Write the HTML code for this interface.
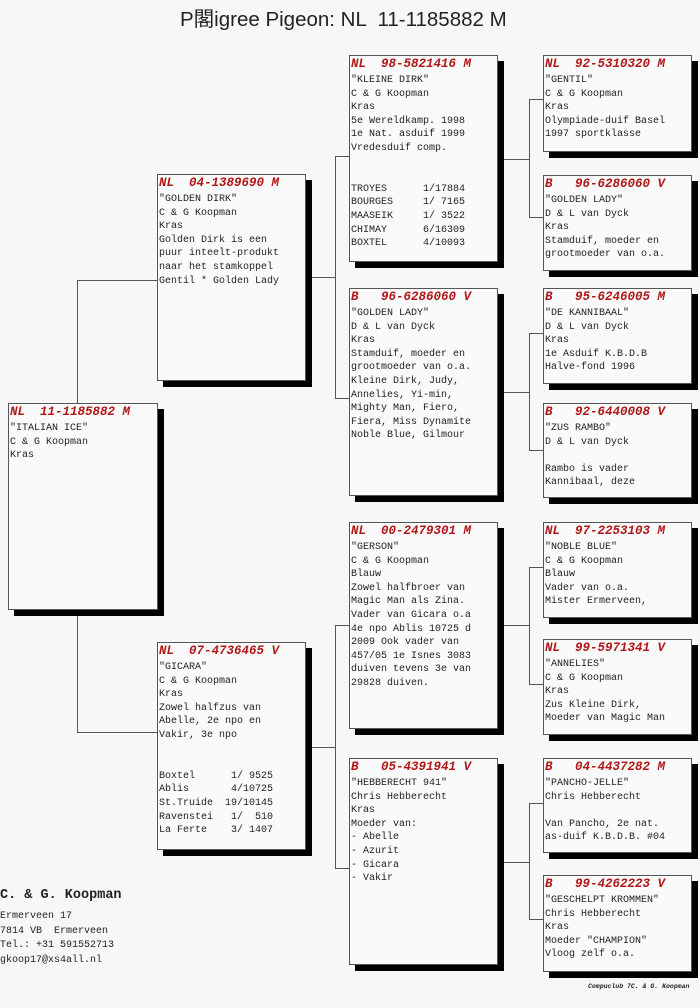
<!DOCTYPE html>
<html><head><meta charset="utf-8"><style>
body{margin:0;background:#f7f7f7;}
#c{position:relative;width:700px;height:1008px;overflow:hidden;background:#f7f7f7;}
.b{position:absolute;background:#fafafa;border:1px solid #555;box-sizing:border-box;box-shadow:6px 6px 0 #000;font-family:"Liberation Mono",monospace;font-size:10px;line-height:13.6px;color:#222;padding-left:1px;white-space:pre;overflow:hidden;}
.h{color:#b01818;font-weight:bold;font-style:italic;font-size:12.5px;line-height:16px;height:18px;}
.l{position:absolute;background:#555;}
.t{position:absolute;font-family:"Liberation Sans","Noto Sans CJK SC",sans-serif;font-size:20.5px;color:#222;white-space:pre;}
.f{position:absolute;font-family:"Liberation Mono",monospace;font-size:10px;color:#222;white-space:pre;line-height:14.5px;}
</style></head><body><div id="c">
<div class="t" style="left:180px;top:2px;">P閣igree Pigeon: NL  11-1185882 M</div>

<div class="l" style="left:77px;top:280px;width:1px;height:123px"></div>
<div class="l" style="left:77px;top:280px;width:80px;height:1px"></div>
<div class="l" style="left:77px;top:616px;width:1px;height:117px"></div>
<div class="l" style="left:77px;top:732px;width:80px;height:1px"></div>

<div class="l" style="left:312px;top:277px;width:23px;height:1px"></div>
<div class="l" style="left:335px;top:156px;width:1px;height:243px"></div>
<div class="l" style="left:335px;top:156px;width:14px;height:1px"></div>
<div class="l" style="left:335px;top:398px;width:14px;height:1px"></div>

<div class="l" style="left:312px;top:747px;width:23px;height:1px"></div>
<div class="l" style="left:335px;top:625px;width:1px;height:244px"></div>
<div class="l" style="left:335px;top:625px;width:14px;height:1px"></div>
<div class="l" style="left:335px;top:868px;width:14px;height:1px"></div>

<div class="l" style="left:504px;top:159px;width:25px;height:1px"></div>
<div class="l" style="left:529px;top:99px;width:1px;height:119px"></div>
<div class="l" style="left:529px;top:99px;width:14px;height:1px"></div>
<div class="l" style="left:529px;top:217px;width:14px;height:1px"></div>

<div class="l" style="left:504px;top:392px;width:25px;height:1px"></div>
<div class="l" style="left:529px;top:333px;width:1px;height:118px"></div>
<div class="l" style="left:529px;top:333px;width:14px;height:1px"></div>
<div class="l" style="left:529px;top:450px;width:14px;height:1px"></div>

<div class="l" style="left:504px;top:625px;width:25px;height:1px"></div>
<div class="l" style="left:529px;top:567px;width:1px;height:118px"></div>
<div class="l" style="left:529px;top:567px;width:14px;height:1px"></div>
<div class="l" style="left:529px;top:684px;width:14px;height:1px"></div>

<div class="l" style="left:504px;top:862px;width:25px;height:1px"></div>
<div class="l" style="left:529px;top:803px;width:1px;height:117px"></div>
<div class="l" style="left:529px;top:803px;width:14px;height:1px"></div>
<div class="l" style="left:529px;top:919px;width:14px;height:1px"></div>

<div class="b" style="left:8px;top:403px;width:150px;height:207px"><div class="h">NL  11-1185882 M</div>"ITALIAN ICE"
C &amp; G Koopman
Kras</div>

<div class="b" style="left:157px;top:174px;width:149px;height:207px"><div class="h">NL  04-1389690 M</div>"GOLDEN DIRK"
C &amp; G Koopman
Kras
Golden Dirk is een
puur inteelt-produkt
naar het stamkoppel
Gentil * Golden Lady</div>

<div class="b" style="left:157px;top:642px;width:149px;height:208px"><div class="h">NL  07-4736465 V</div>"GICARA"
C &amp; G Koopman
Kras
Zowel halfzus van
Abelle, 2e npo en
Vakir, 3e npo


Boxtel      1/ 9525
Ablis       4/10725
St.Truide  19/10145
Ravenstei   1/  510
La Ferte    3/ 1407</div>

<div class="b" style="left:349px;top:55px;width:149px;height:207px"><div class="h">NL  98-5821416 M</div>"KLEINE DIRK"
C &amp; G Koopman
Kras
5e Wereldkamp. 1998
1e Nat. asduif 1999
Vredesduif comp.


TROYES      1/17884
BOURGES     1/ 7165
MAASEIK     1/ 3522
CHIMAY      6/16309
BOXTEL      4/10093</div>

<div class="b" style="left:349px;top:288px;width:149px;height:208px"><div class="h">B   96-6286060 V</div>"GOLDEN LADY"
D &amp; L van Dyck
Kras
Stamduif, moeder en
grootmoeder van o.a.
Kleine Dirk, Judy,
Annelies, Yi-min,
Mighty Man, Fiero,
Fiera, Miss Dynamite
Noble Blue, Gilmour</div>

<div class="b" style="left:349px;top:522px;width:149px;height:207px"><div class="h">NL  00-2479301 M</div>"GERSON"
C &amp; G Koopman
Blauw
Zowel halfbroer van
Magic Man als Zina.
Vader van Gicara o.a
4e npo Ablis 10725 d
2009 Ook vader van
457/05 1e Isnes 3083
duiven tevens 3e van
29828 duiven.</div>

<div class="b" style="left:349px;top:758px;width:149px;height:207px"><div class="h">B   05-4391941 V</div>"HEBBERECHT 941"
Chris Hebberecht
Kras
Moeder van:
- Abelle
- Azurit
- Gicara
- Vakir</div>

<div class="b" style="left:543px;top:55px;width:149px;height:97px"><div class="h">NL  92-5310320 M</div>"GENTIL"
C &amp; G Koopman
Kras
Olympiade-duif Basel
1997 sportklasse</div>

<div class="b" style="left:543px;top:175px;width:149px;height:96px"><div class="h">B   96-6286060 V</div>"GOLDEN LADY"
D &amp; L van Dyck
Kras
Stamduif, moeder en
grootmoeder van o.a.</div>

<div class="b" style="left:543px;top:288px;width:149px;height:96px"><div class="h">B   95-6246005 M</div>"DE KANNIBAAL"
D &amp; L van Dyck
Kras
1e Asduif K.B.D.B
Halve-fond 1996</div>

<div class="b" style="left:543px;top:403px;width:149px;height:95px"><div class="h">B   92-6440008 V</div>"ZUS RAMBO"
D &amp; L van Dyck

Rambo is vader
Kannibaal, deze</div>

<div class="b" style="left:543px;top:522px;width:149px;height:96px"><div class="h">NL  97-2253103 M</div>"NOBLE BLUE"
C &amp; G Koopman
Blauw
Vader van o.a.
Mister Ermerveen,</div>

<div class="b" style="left:543px;top:639px;width:149px;height:96px"><div class="h">NL  99-5971341 V</div>"ANNELIES"
C &amp; G Koopman
Kras
Zus Kleine Dirk,
Moeder van Magic Man</div>

<div class="b" style="left:543px;top:758px;width:149px;height:95px"><div class="h">B   04-4437282 M</div>"PANCHO-JELLE"
Chris Hebberecht

Van Pancho, 2e nat.
as-duif K.B.D.B. #04</div>

<div class="b" style="left:543px;top:875px;width:149px;height:97px"><div class="h">B   99-4262223 V</div>"GESCHELPT KROMMEN"
Chris Hebberecht
Kras
Moeder "CHAMPION"
Vloog zelf o.a.</div>

<div class="f" style="left:0;top:889px;font-size:13.5px;font-weight:bold;">C. &amp; G. Koopman</div>
<div class="f" style="left:0;top:910px;">Ermerveen 17
7814 VB  Ermerveen
Tel.: +31 591552713
gkoop17@xs4all.nl</div>
<div class="f" style="left:588px;top:980px;font-size:6.5px;font-style:italic;font-weight:bold;">Compuclub 7C. &amp; G. Koopman</div>
</div></body></html>
